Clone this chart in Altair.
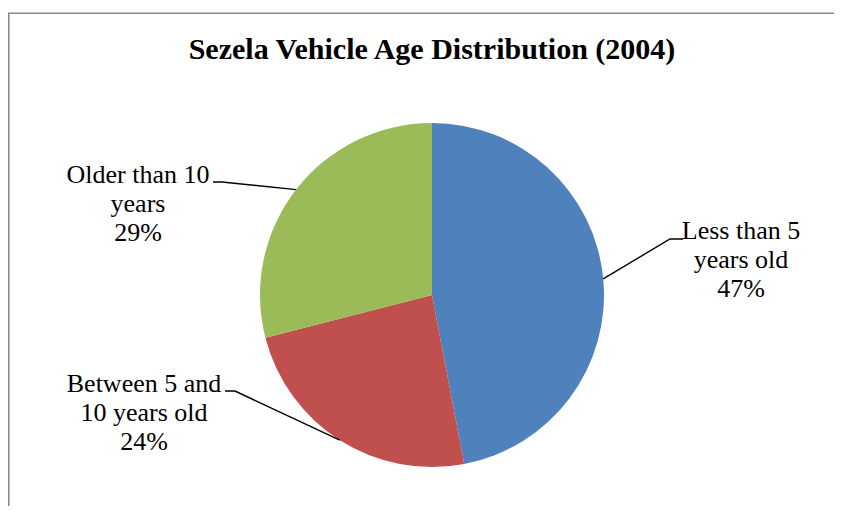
import altair as alt
import pandas as pd
import numpy as np

# ---- data ----
categories = ["Less than 5 years old", "Between 5 and 10 years old", "Older than 10 years"]
values = [47, 24, 29]
label_lines = [["Less than 5", "years old"], ["Between 5 and", "10 years old"], ["Older than 10", "years"]]
colors = ["#4F81BD", "#C0504D", "#9BBB59"]
title_text = "Sezela Vehicle Age Distribution (2004)"

# ---- layout (canvas pixels) ----
W, H = 826, 498
OFF = 8  # page margin
CX, CY, R = 432 - OFF, 295 - OFF, 172
label_pos = [(741, 239), (144, 392), (138, 183)]   # page coords, first baseline
elbow_pos = [(670, 239), (235, 391), (222, 182)]
end_pos = [(683, 239), (225, 391), (213, 182)]
FONT = "Liberation Serif"

total = sum(values)
pie = pd.DataFrame({"category": categories, "value": values, "order": range(len(values))})

# leader lines: from slice mid-angle on pie edge to the label
cum = np.cumsum(values) - np.array(values) / 2.0
ang = cum / total * 2 * np.pi
rows = []
for i, c in enumerate(categories):
    sx = CX + R * np.sin(ang[i])
    sy = CY - R * np.cos(ang[i])
    rows.append({"category": c, "idx": 0, "px": sx, "py": sy})
    rows.append({"category": c, "idx": 1, "px": elbow_pos[i][0] - OFF, "py": elbow_pos[i][1] - OFF})
    rows.append({"category": c, "idx": 2, "px": end_pos[i][0] - OFF, "py": end_pos[i][1] - OFF})
leaders = pd.DataFrame(rows)

labels = pd.DataFrame({
    "category": categories,
    "label": ["\n".join(label_lines[i] + [f"{round(values[i] / total * 100)}%"]) for i in range(len(values))],
    "px": [p[0] - OFF for p in label_pos],
    "py": [p[1] - OFF for p in label_pos],
})

arcs = alt.Chart(pie).mark_arc(outerRadius=R).encode(
    theta=alt.Theta("value:Q", stack=True),
    color=alt.Color("category:N", scale=alt.Scale(domain=categories, range=colors), legend=None),
    order=alt.Order("order:Q"),
    x=alt.value(CX),
    y=alt.value(CY),
)

lines = alt.Chart(leaders).mark_line(color="black", strokeWidth=1.4).encode(
    x=alt.X("px:Q", scale=None),
    y=alt.Y("py:Q", scale=None),
    detail="category:N",
    order="idx:Q",
)

texts = alt.Chart(labels).mark_text(
    font=FONT, fontSize=26, lineHeight=29, align="center", baseline="alphabetic",
    lineBreak="\n", color="black",
).encode(
    x=alt.X("px:Q", scale=None),
    y=alt.Y("py:Q", scale=None),
    text="label:N",
)

title = alt.Chart(pd.DataFrame({"t": [title_text]})).mark_text(
    font=FONT, fontSize=30, fontWeight="bold", align="center", baseline="alphabetic", color="black",
).encode(text="t:N", x=alt.value(432 - OFF), y=alt.value(58.5 - OFF))

one = pd.DataFrame({"a": [0]})
border_left = alt.Chart(one).mark_rule(color="#8a8a8a", strokeWidth=1.6).encode(
    x=alt.value(0.8), y=alt.value(5.2), y2=alt.value(H))
border_top = alt.Chart(one).mark_rule(color="#8a8a8a", strokeWidth=1.6).encode(
    x=alt.value(0), x2=alt.value(W), y=alt.value(5.2))

chart = alt.layer(border_left, border_top, arcs, lines, texts, title).properties(
    width=W, height=H, autosize="none", padding=0
).configure_view(stroke=None)

chart.save("out.html", embed_options={"renderer": "svg", "actions": False})
